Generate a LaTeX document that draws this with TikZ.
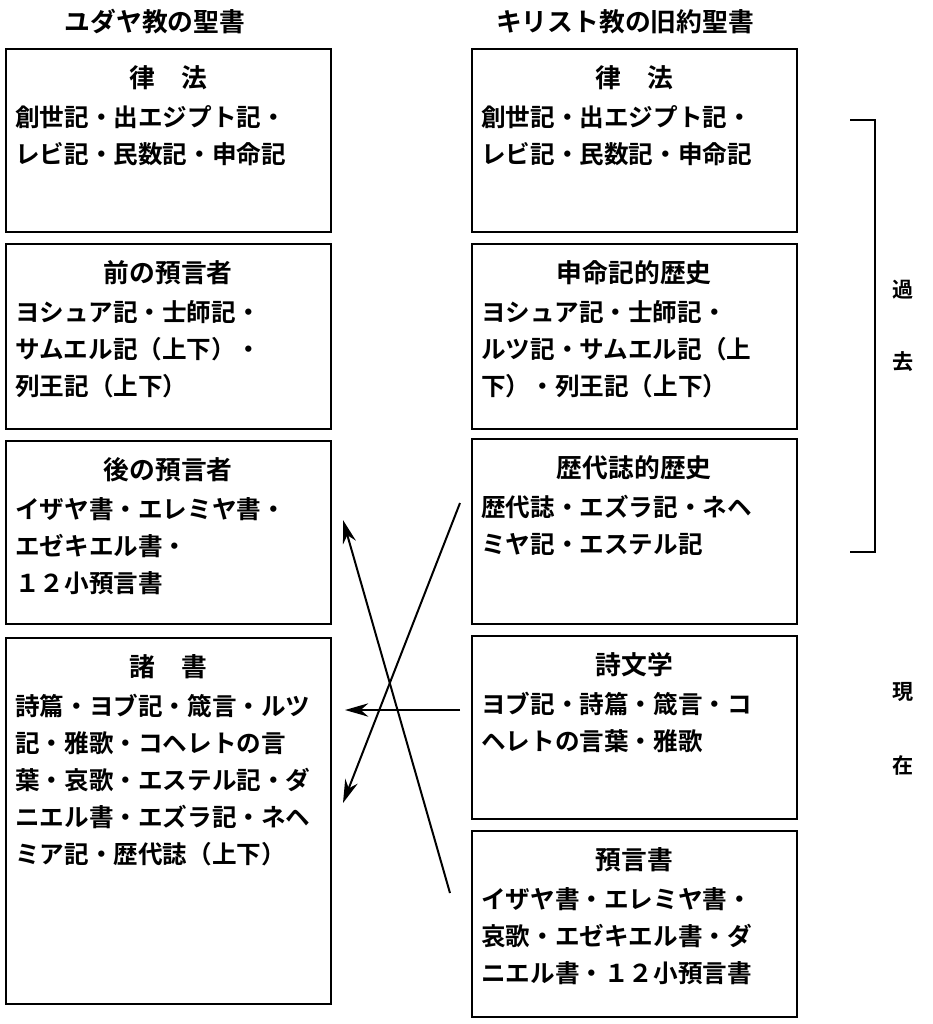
\documentclass[tikz,border=0pt]{standalone}
\usepackage{fontspec}
\newfontfamily\jp{Noto Sans CJK JP}[BoldFont={Noto Sans CJK JP Bold}]
\usetikzlibrary{positioning,arrows.meta}
\tikzset{
    box/.style={draw, line width=1.3pt, rectangle, minimum width=9.75cm, inner sep=0pt},
    title/.style={font=\jp\bfseries\fontsize{22}{22}\selectfont, anchor=center},
    body/.style={font=\jp\bfseries\fontsize{21}{31.5}\selectfont, align=left, anchor=north west, inner sep=0pt},
    head/.style={font=\jp\bfseries\fontsize{22}{22}\selectfont},
    side/.style={font=\jp\bfseries\fontsize{18}{18}\selectfont},
    arr/.style={-{Stealth[length=7mm,width=4mm]}, line width=1.7pt},
}
\newcommand{\bibbox}[6]{%
  \node[box, minimum height=#4*0.03cm, anchor=north west] (#1) at (#2,#3) {};
  \node[title] (#1t) at ([yshift=-0.9cm]#1.north) {#5};
  \node[body] (#1b) at ([xshift=0.3cm,yshift=-1.72cm]#1.north west) {#6};
}
\begin{document}
\begin{tikzpicture}[x=0.03cm,y=-0.03cm]
    \useasboundingbox (0,0) rectangle (933,1024);
    \node[head] (lh) at (155,22) {ユダヤ教の聖書};
    \node[head] (rh) at (625,22) {キリスト教の旧約聖書};
    % left column
    \bibbox{l1}{5}{48}{183}{律\quad 法}{創世記・出エジプト記・\\レビ記・民数記・申命記}
    \bibbox{l2}{5}{243}{185}{前の預言者}{ヨシュア記・士師記・\\サムエル記（上下）・\\列王記（上下）}
    \bibbox{l3}{5}{440}{183}{後の預言者}{イザヤ書・エレミヤ書・\\エゼキエル書・\\１２小預言書}
    \bibbox{l4}{5}{637}{366}{諸\quad 書}{詩篇・ヨブ記・箴言・ルツ\\記・雅歌・コヘレトの言\\葉・哀歌・エステル記・ダ\\ニエル書・エズラ記・ネヘ\\ミア記・歴代誌（上下）}
    % right column
    \bibbox{r1}{471}{48}{183}{律\quad 法}{創世記・出エジプト記・\\レビ記・民数記・申命記}
    \bibbox{r2}{471}{243}{185}{申命記的歴史}{ヨシュア記・士師記・\\ルツ記・サムエル記（上\\下）・列王記（上下）}
    \bibbox{r3}{471}{438}{185}{歴代誌的歴史}{歴代誌・エズラ記・ネヘ\\ミヤ記・エステル記}
    \bibbox{r4}{471}{635}{183}{詩文学}{ヨブ記・詩篇・箴言・コ\\ヘレトの言葉・雅歌}
    \bibbox{r5}{471}{830}{186}{預言書}{イザヤ書・エレミヤ書・\\哀歌・エゼキエル書・ダ\\ニエル書・１２小預言書}
    % time bracket
    \coordinate (bt) at (850,120);
    \coordinate (bb) at (850,552);
    \draw[line width=1.3pt] (bt) -- ++(25,0) |- (bb);
    \node[side] (k1) at (903,290) {過};
    \node[side] (k2) at (903,362) {去};
    \node[side] (g1) at (903,692) {現};
    \node[side] (g2) at (903,765) {在};
    % arrows
    \coordinate (a1s) at (460,503);
    \coordinate (a1e) at (343,803);
    \coordinate (a2s) at (460,710);
    \coordinate (a2e) at (345,710);
    \coordinate (a3s) at (450,893);
    \coordinate (a3e) at (343,520);
    \draw[arr] (a1s) -- (a1e);
    \draw[arr] (a2s) -- (a2e);
    \draw[arr] (a3s) -- (a3e);
\end{tikzpicture}
\end{document}
